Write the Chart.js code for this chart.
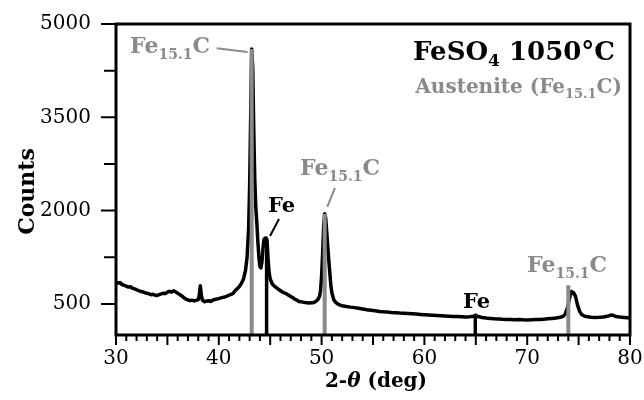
<!DOCTYPE html>
<html>
<head>
<meta charset="utf-8">
<script src="https://cdn.jsdelivr.net/npm/chart.js@4.4.1/dist/chart.umd.min.js"></script>
<style>
    html, body { margin: 0; padding: 0; background: #fff; }
    #wrap { width: 644px; height: 400px; }
</style>
</head>
<body>
<div id="wrap"><canvas id="xrdChart"></canvas></div>
<script>
// --- Data ---
const twoTheta = [
    30.0, 30.2, 30.4, 30.6, 30.8, 31.0, 31.2, 31.4, 31.6, 31.8,
    32.0, 32.2, 32.4, 32.6, 32.8, 33.0, 33.2, 33.4, 33.6, 33.8,
    34.0, 34.2, 34.4, 34.6, 34.8, 35.0, 35.2, 35.4, 35.6, 35.8,
    36.0, 36.2, 36.4, 36.6, 36.8, 37.0, 37.2, 37.4, 37.6, 37.8,
    38.0, 38.1, 38.2, 38.3, 38.4, 38.6, 38.8, 39.0, 39.2, 39.4,
    39.6, 39.8, 40.0, 40.2, 40.4, 40.6, 40.8, 41.0, 41.2, 41.4,
    41.6, 41.8, 42.0, 42.2, 42.4, 42.6, 42.75, 42.9, 43.0, 43.1,
    43.2, 43.3, 43.4, 43.5, 43.6, 43.7, 43.8, 43.9, 44.0, 44.1,
    44.2, 44.3, 44.4, 44.5, 44.6, 44.7, 44.8, 44.9, 45.0, 45.2,
    45.4, 45.6, 45.8, 46.0, 46.2, 46.4, 46.6, 46.8, 47.0, 47.2,
    47.4, 47.6, 47.8, 48.0, 48.2, 48.4, 48.6, 48.8, 49.0, 49.2,
    49.4, 49.6, 49.8, 49.9, 50.0, 50.1, 50.2, 50.3, 50.4, 50.5,
    50.6, 50.7, 50.8, 50.9, 51.0, 51.2, 51.4, 51.6, 51.8, 52.0,
    52.4, 52.8, 53.2, 53.6, 54.0, 54.4, 54.8, 55.2, 55.6, 56.0,
    56.4, 56.8, 57.2, 57.6, 58.0, 58.4, 58.8, 59.2, 59.6, 60.0,
    60.4, 60.8, 61.2, 61.6, 62.0, 62.4, 62.8, 63.2, 63.6, 64.0,
    64.4, 64.8, 65.0, 65.2, 65.6, 66.0, 66.4, 66.8, 67.2, 67.6,
    68.0, 68.4, 68.8, 69.2, 69.6, 70.0, 70.4, 70.8, 71.2, 71.6,
    72.0, 72.4, 72.8, 73.2, 73.5, 73.7, 73.9, 74.1, 74.3, 74.5,
    74.7, 74.9, 75.1, 75.3, 75.6, 75.9, 76.2, 76.6, 77.0, 77.4,
    77.8, 78.1, 78.3, 78.6, 79.0, 79.4, 79.8, 80.0
];
const counts = [
    850, 835, 842, 810, 798, 785, 770, 776, 752, 740,
    728, 712, 700, 694, 680, 672, 660, 648, 655, 640,
    636, 650, 662, 672, 668, 690, 702, 688, 712, 695,
    670, 650, 628, 600, 578, 565, 552, 560, 548, 556,
    570, 640, 790, 650, 560, 535, 545, 552, 540, 560,
    570, 580, 585, 596, 605, 612, 625, 640, 652, 670,
    715, 745, 780, 830, 900, 1040, 1250, 1700, 2400, 3500,
    4600, 4300, 3300, 2500, 2050, 1800, 1500, 1250, 1100, 1080,
    1180, 1400, 1540, 1555, 1560, 1500, 1200, 1000, 900, 820,
    785, 760, 735, 712, 690, 675, 660, 640, 620, 600,
    575, 560, 540, 535, 528, 522, 520, 515, 518, 520,
    535, 560, 620, 720, 950, 1300, 1750, 1950, 1880, 1650,
    1420, 1200, 1000, 800, 680, 560, 520, 495, 480, 470,
    458, 448, 440, 430, 418, 405, 398, 390, 378, 372,
    368, 362, 358, 352, 348, 345, 340, 336, 330, 325,
    320, 316, 312, 308, 305, 302, 298, 296, 293, 290,
    292, 300, 320, 298, 282, 272, 266, 260, 256, 252,
    250, 248, 246, 248, 244, 242, 245, 248, 250, 255,
    260, 266, 272, 285, 300, 340, 430, 580, 700, 680,
    620, 480, 380, 330, 300, 292, 285, 282, 284, 288,
    300, 318, 322, 298, 288, 282, 276, 275
];

// reference stick positions (2-theta) and heights (counts)
const austenitePos = [43.2, 50.3, 74.0];
const austeniteHeight = [4600, 1950, 800];
const ironPos = [44.65, 64.95];
const ironHeight = [1560, 320];

// axis ticks
const yMajorTicks = [500, 2000, 3500, 5000];
const yMinorTicks = [1250, 2750, 4250];
const xLabelTicks = [30, 40, 50, 60, 70, 80];

// --- Styling ---
const GRAY = '#8a8a8a';
const SERIF = '"DejaVu Serif", "Liberation Serif", serif';

// draws text made of several runs (for subscripts)
function drawRich(ctx, parts, x, y, align) {
    let width = 0;
    parts.forEach(p => { ctx.font = p.font; width += ctx.measureText(p.t).width; });
    let cx = align === 'right' ? x - width : (align === 'center' ? x - width / 2 : x);
    ctx.textAlign = 'left';
    ctx.textBaseline = 'alphabetic';
    parts.forEach(p => {
        ctx.font = p.font;
        ctx.fillText(p.t, cx, y + (p.dy || 0));
        cx += ctx.measureText(p.t).width;
    });
    return width;
}

function feCParts(size, subSize, dy) {
    return [
        { t: 'Fe', font: `bold ${size}px ${SERIF}` },
        { t: '15.1', font: `bold ${subSize}px ${SERIF}`, dy: dy },
        { t: 'C', font: `bold ${size}px ${SERIF}` }
    ];
}

// peak labels, anchored in data units
const peakNotes = [
    { x: 31.36, y: 4535, color: GRAY, parts: feCParts(22, 14, 6), leader: [39.8, 4610, 42.8, 4550] },
    { x: 47.9, y: 2573, color: GRAY, parts: feCParts(22, 14, 6), leader: [51.3, 2364, 50.55, 2060] },
    { x: 44.79, y: 1978, color: '#000', parts: [{ t: 'Fe', font: `bold 21px ${SERIF}` }], leader: [45.86, 1865, 44.98, 1592] },
    { x: 63.75, y: 434, color: '#000', parts: [{ t: 'Fe', font: `bold 21px ${SERIF}` }] },
    { x: 69.98, y: 1013, color: GRAY, parts: feCParts(22, 14, 6) }
];

const decorPlugin = {
    id: 'xrdDecor',
    afterDatasetsDraw(chart) {
        const { ctx, chartArea: a, scales: { x, y } } = chart;
        ctx.save();

        // frame
        ctx.strokeStyle = '#000';
        ctx.lineWidth = 3;
        ctx.strokeRect(a.left, a.top, a.right - a.left, a.bottom - a.top);

        // x ticks (outside, every degree; longer every 5)
        ctx.lineWidth = 2;
        ctx.beginPath();
        x.ticks.forEach(t => {
            const px = x.getPixelForValue(t.value);
            const len = t.value % 5 === 0 ? 10 : 6;
            ctx.moveTo(px, a.bottom);
            ctx.lineTo(px, a.bottom + len);
        });
        // y ticks (outside)
        yMajorTicks.forEach(v => {
            const py = y.getPixelForValue(v);
            ctx.moveTo(a.left, py);
            ctx.lineTo(a.left - 15, py);
        });
        yMinorTicks.forEach(v => {
            const py = y.getPixelForValue(v);
            ctx.moveTo(a.left, py);
            ctx.lineTo(a.left - 12, py);
        });
        ctx.stroke();

        // peak annotations
        peakNotes.forEach(n => {
            ctx.fillStyle = n.color;
            ctx.strokeStyle = n.color;
            drawRich(ctx, n.parts, x.getPixelForValue(n.x), y.getPixelForValue(n.y), 'left');
            if (n.leader) {
                ctx.lineWidth = 2;
                ctx.beginPath();
                ctx.moveTo(x.getPixelForValue(n.leader[0]), y.getPixelForValue(n.leader[1]));
                ctx.lineTo(x.getPixelForValue(n.leader[2]), y.getPixelForValue(n.leader[3]));
                ctx.stroke();
            }
        });

        // sample title
        ctx.fillStyle = '#000';
        drawRich(ctx, [
            { t: 'FeSO', font: `bold 26px ${SERIF}` },
            { t: '4', font: `bold 17px ${SERIF}`, dy: 6 },
            { t: ' 1050°C', font: `bold 26px ${SERIF}` }
        ], a.right - 15, a.top + 36, 'right');
        ctx.fillStyle = GRAY;
        drawRich(ctx, [
            { t: 'Austenite (Fe', font: `bold 20px ${SERIF}` },
            { t: '15.1', font: `bold 13px ${SERIF}`, dy: 5 },
            { t: 'C)', font: `bold 20px ${SERIF}` }
        ], a.right - 8, a.top + 69, 'right');

        // axis titles
        ctx.fillStyle = '#000';
        drawRich(ctx, [
            { t: '2-', font: `bold 20px ${SERIF}` },
            { t: 'θ', font: `italic bold 20px ${SERIF}` },
            { t: ' (deg)', font: `bold 20px ${SERIF}` }
        ], (a.left + a.right) / 2 + 3, a.bottom + 52, 'center');

        ctx.translate(a.left - 82, (a.top + a.bottom) / 2 + 12);
        ctx.rotate(-Math.PI / 2);
        drawRich(ctx, [{ t: 'Counts', font: `bold 22px ${SERIF}` }], 0, 0, 'center');

        ctx.restore();
    }
};

function createXrdChart() {
    const ctx = document.getElementById('xrdChart').getContext('2d');

    const stickSets = [];
    austenitePos.forEach((pos, i) => {
        stickSets.push({
            data: [{ x: pos, y: 0 }, { x: pos, y: austeniteHeight[i] }],
            borderColor: GRAY, borderWidth: 4, pointRadius: 0, borderCapStyle: 'butt'
        });
    });
    ironPos.forEach((pos, i) => {
        stickSets.push({
            data: [{ x: pos, y: 0 }, { x: pos, y: ironHeight[i] }],
            borderColor: '#000', borderWidth: 3.5, pointRadius: 0, borderCapStyle: 'butt'
        });
    });

    const pattern = {
        data: twoTheta.map((t, i) => ({ x: t, y: counts[i] })),
        borderColor: '#000', borderWidth: 3.5, pointRadius: 0, tension: 0,
        borderJoinStyle: 'round'
    };

    new Chart(ctx, {
        type: 'line',
        data: { datasets: [...stickSets, pattern] },
        options: {
            responsive: true, maintainAspectRatio: false, animation: false,
            layout: { padding: { top: 24, right: 14, left: 0, bottom: 0 } },
            plugins: { legend: { display: false }, tooltip: { enabled: false } },
            scales: {
                x: {
                    type: 'linear', min: 30, max: 80,
                    grid: { display: false, drawTicks: false },
                    border: { display: false },
                    afterFit: s => { s.height = 65; s.paddingLeft = 0; s.paddingRight = 0; },
                    ticks: {
                        stepSize: 1, autoSkip: false, maxRotation: 0, padding: 12,
                        color: '#000', font: { family: SERIF, size: 20 },
                        callback: v => xLabelTicks.includes(v) ? String(v) : ''
                    }
                },
                y: {
                    type: 'linear', min: 0, max: 5000,
                    grid: { display: false, drawTicks: false },
                    border: { display: false },
                    afterFit: s => { s.width = 116; s.paddingTop = 0; s.paddingBottom = 0; },
                    afterBuildTicks: s => { s.ticks = yMajorTicks.map(v => ({ value: v })); },
                    ticks: {
                        padding: 25, color: '#000', font: { family: SERIF, size: 20 },
                        callback: v => String(v)
                    }
                }
            }
        },
        plugins: [decorPlugin]
    });
}

createXrdChart();
</script>
</body>
</html>
